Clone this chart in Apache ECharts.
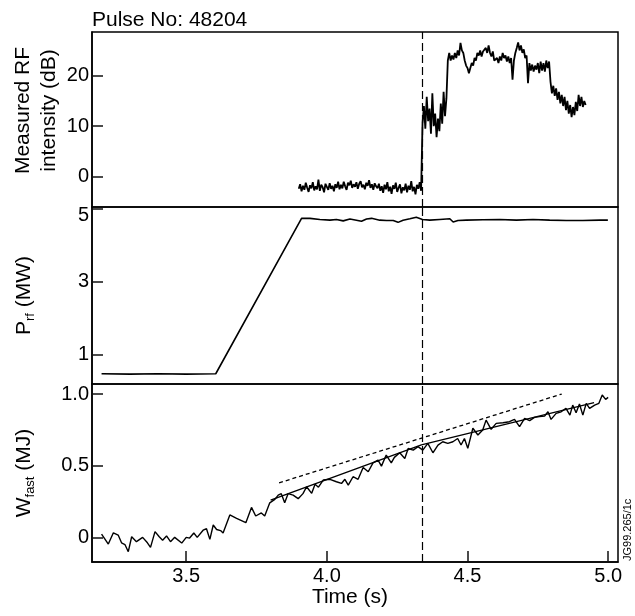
<!DOCTYPE html>
<html><head><meta charset="utf-8">
<script src="https://cdn.jsdelivr.net/npm/echarts@6/dist/echarts.min.js"></script>
<style>html,body{margin:0;padding:0;background:#fff}#c{width:635px;height:616px}</style>
</head><body><div id="c"></div>
<script>
const FONT = '"Liberation Sans", Arial, sans-serif';
const titleText = 'Pulse No: 48204';
const stampText = 'JG99.265/1c';
const xName = 'Time (s)';
const xTicks = [3.5, 4.0, 4.5, 5.0];
const rfTicks = [0, 10, 20];
const prfTicks = [1, 3, 5];
const wTicks = [0, 0.5, 1.0];
const switchTime = 4.336;

// Measured RF intensity (dB), sampled every 5 ms from 3.900 s
const rfStart = 3.900, rfStep = 0.005;
const rfValues = [
  -2.4,-1.5,-2.9,-1.8,-2.6,-1.2,-2.2,-3.0,-1.7,-2.3,-1.1,-2.7,-1.9,-2.5,-0.6,-2.8,-1.6,-2.1,-3.1,-1.4,-2.0,-2.6,-1.3,-2.4,-1.8,-2.9,-1.5,-2.2,-1.0,-2.5,
  -1.6,-2.3,-1.0,-1.9,-2.6,-1.2,-1.7,-0.8,-2.2,-1.5,-2.0,-1.1,-2.4,-1.4,-0.9,-2.1,-1.6,-2.5,-1.2,-1.8,-0.7,-2.2,-1.5,-2.6,-1.3,-1.9,
  -2.3,-1.4,-2.8,-1.9,-3.2,-1.6,-2.5,-1.1,-2.9,-2.0,-3.4,-1.7,-2.4,-1.2,-3.0,-2.2,-1.5,-3.3,-2.1,-2.7,-1.4,-3.1,-1.8,-2.6,-0.9,-2.9,-2.0,-3.5,-1.6,-2.4,-1.1,-2.8,
  10.5,14.0,9.5,15.8,11.0,13.5,8.5,16.5,10.0,12.5,7.8,11.5,9.0,14.5,10.5,16.8,12.0,15.5,
  23.0,24.5,23.0,24.0,23.2,24.5,23.5,25.0,24.0,26.5,25.0,24.5,23.0,22.0,21.5,20.5,21.5,22.5,22.0,23.5,
  23.0,24.5,24.0,25.0,23.8,24.8,24.5,25.5,24.5,26.0,24.5,23.8,24.8,23.0,22.8,23.5,22.5,23.8,23.0,24.5,
  23.5,24.0,22.8,23.8,22.5,23.5,19.2,23.0,24.5,25.5,26.6,25.0,26.0,24.5,25.2,23.5,24.0,18.5,22.5,21.0,
  22.2,20.8,22.0,21.2,22.5,20.5,22.8,21.0,22.5,20.8,23.0,21.5,22.8,
  18.8,16.5,18.0,16.0,17.5,15.2,16.8,14.5,16.2,14.0,15.8,13.2,15.0,12.5,14.2,11.8,13.8,12.2,14.8,13.0,16.2,14.0,15.8,13.8,15.0,14.2
];

// RF power (MW)
const prfTime = [3.199,3.30,3.40,3.50,3.605,3.910,3.940,3.975,4.011,4.034,4.058,4.082,4.105,4.123,4.141,4.159,4.188,4.212,4.236,4.253,4.271,4.295,4.318,4.340,4.366,4.401,4.437,4.449,4.466,4.496,4.555,4.614,4.674,4.733,4.792,4.851,4.910,4.970,4.999];
const prfValue = [0.48,0.47,0.48,0.47,0.48,4.73,4.73,4.70,4.68,4.70,4.66,4.71,4.68,4.65,4.71,4.73,4.68,4.67,4.67,4.62,4.68,4.72,4.76,4.70,4.68,4.70,4.72,4.63,4.67,4.68,4.69,4.70,4.68,4.70,4.68,4.67,4.67,4.68,4.68];

// Fast ion energy (MJ)
const wTime = [3.199,3.223,3.241,3.258,3.270,3.282,3.294,3.306,3.323,3.345,3.362,3.373,3.389,3.404,3.416,3.430,3.444,3.459,3.484,3.500,3.512,3.527,3.539,3.560,3.572,3.584,3.596,3.608,3.622,3.631,3.655,3.679,3.712,3.732,3.747,3.767,3.779,3.797,3.815,3.827,3.838,3.850,3.862,3.880,3.898,3.915,3.928,3.946,3.958,3.970,3.987,4.011,4.034,4.052,4.064,4.076,4.093,4.111,4.129,4.147,4.164,4.182,4.194,4.211,4.229,4.240,4.259,4.277,4.289,4.307,4.324,4.341,4.359,4.377,4.395,4.412,4.430,4.448,4.465,4.477,4.489,4.501,4.519,4.537,4.554,4.566,4.584,4.602,4.626,4.649,4.667,4.685,4.703,4.721,4.738,4.756,4.774,4.786,4.797,4.815,4.833,4.850,4.864,4.874,4.886,4.898,4.910,4.922,4.934,4.952,4.967,4.979,4.991,5.000];
const wValue = [0.023,-0.047,0.032,0.016,-0.038,-0.05,-0.10,0.004,-0.03,0.0,-0.038,-0.07,0.04,0.004,-0.02,0.01,-0.03,0.0,-0.04,0.0,-0.005,0.03,0.0,0.05,0.06,-0.014,0.086,0.055,0.047,0.03,0.156,0.132,0.102,0.209,0.149,0.17,0.149,0.241,0.265,0.295,0.305,0.241,0.305,0.295,0.27,0.305,0.353,0.307,0.37,0.35,0.40,0.405,0.388,0.376,0.405,0.365,0.423,0.405,0.488,0.458,0.52,0.539,0.497,0.574,0.52,0.558,0.59,0.55,0.62,0.609,0.633,0.609,0.656,0.59,0.644,0.667,0.656,0.667,0.69,0.644,0.69,0.621,0.761,0.714,0.749,0.818,0.754,0.795,0.80,0.807,0.823,0.772,0.83,0.814,0.837,0.842,0.846,0.876,0.823,0.865,0.876,0.90,0.853,0.923,0.869,0.93,0.853,0.935,0.90,0.923,0.935,0.993,0.963,0.977];

// Fitted trend (solid) and extrapolated trend (dashed)
const fitTime = [3.80, 4.336, 4.95];
const fitValue = [0.26, 0.645, 0.94];
const trendTime = [3.83, 4.835];
const trendValue = [0.38, 1.0];

const zip = (t, v) => t.map((x, i) => [x, v[i]]);
const rfData = rfValues.map((v, i) => [+(rfStart + i * rfStep).toFixed(3), v]);

const BLACK = '#000';
const TICK = '#111';
const LABEL_SIZE = 20, NAME_SIZE = 21;
const X_MIN = 3.165, X_MAX = 5.035;
const gridBase = { left: 92, right: 17, show: true, borderColor: BLACK, borderWidth: 1.5 };

function hiddenX(idx) {
  return { type: 'value', gridIndex: idx, min: X_MIN, max: X_MAX, axisLine: { show: false }, axisTick: { show: false }, axisLabel: { show: false }, splitLine: { show: false } };
}
function yAxis(idx, min, max, ticks, fmt, name, nameGap, nameStyle) {
  return {
    type: 'value', gridIndex: idx, min: min, max: max,
    axisLine: { show: true, lineStyle: { color: BLACK, width: 1.5 } },
    axisTick: { show: true, inside: true, length: 11, customValues: ticks, lineStyle: { color: TICK, width: 1.5 } },
    axisLabel: { show: true, customValues: ticks, formatter: fmt, margin: 3, fontSize: LABEL_SIZE, color: BLACK, fontFamily: FONT,
      rich: { top: { fontSize: LABEL_SIZE, color: BLACK, fontFamily: FONT, padding: [14, 0, 0, 0] } } },
    splitLine: { show: false },
    name: name, nameLocation: 'middle', nameGap: nameGap, nameRotate: 90, nameMoveOverlap: false,
    nameTextStyle: nameStyle
  };
}
const subRich = {
  n: { fontSize: NAME_SIZE, color: BLACK, fontFamily: FONT },
  s: { fontSize: 13, color: BLACK, fontFamily: FONT, padding: [13, 0, 0, 0] }
};
const lineSeries = (xi, data, width, type) => ({
  type: 'line', xAxisIndex: xi, yAxisIndex: xi, data: data, showSymbol: false, symbol: 'none', silent: true,
  lineStyle: { color: BLACK, width: width, type: type || 'solid' }
});
const vMark = {
  silent: true, symbol: ['none', 'none'], label: { show: false }, animation: false,
  lineStyle: { color: BLACK, type: [8, 4], width: 1.2 }, data: [{ xAxis: switchTime }]
};

const option = {
  animation: false,
  backgroundColor: '#fff',
  title: { text: titleText, left: 87, top: 5, textStyle: { fontSize: NAME_SIZE, fontWeight: 'normal', color: BLACK, fontFamily: FONT } },
  grid: [
    Object.assign({ top: 32, height: 175 }, gridBase),
    Object.assign({ top: 207, height: 177 }, gridBase),
    Object.assign({ top: 384, height: 178 }, gridBase)
  ],
  xAxis: [
    hiddenX(0), hiddenX(1),
    {
      type: 'value', gridIndex: 2, min: X_MIN, max: X_MAX,
      axisLine: { show: true, onZero: false, lineStyle: { color: BLACK, width: 1.5 } },
      axisTick: { show: true, inside: true, length: 11, customValues: xTicks, lineStyle: { color: TICK, width: 1.5 } },
      axisLabel: { show: true, customValues: xTicks, formatter: v => v.toFixed(1), margin: 4, fontSize: LABEL_SIZE, color: BLACK, fontFamily: FONT },
      splitLine: { show: false },
      name: xName, nameLocation: 'middle', nameGap: 22,
      nameTextStyle: { fontSize: NAME_SIZE, color: BLACK, fontFamily: FONT, verticalAlign: 'top', padding: [0, 10, 0, 0] }
    }
  ],
  yAxis: [
    yAxis(0, -6, 28.65, rfTicks, v => String(v), 'Measured RF\nintensity (dB)', 30,
      { fontSize: NAME_SIZE, color: BLACK, fontFamily: FONT, lineHeight: 26, padding: [0, 0, 0, 18] }),
    yAxis(1, 0.2, 5.04, prfTicks, v => (v === 5 ? '{top|5}' : String(v)), '{n|P}{s|rf}{n| (MW)}', 55,
      { rich: subRich }),
    yAxis(2, -0.172, 1.07, wTicks, v => (v === 0 ? '0' : v.toFixed(1)), '{n|W}{s|fast}{n| (MJ)}', 55,
      { rich: subRich })
  ],
  series: [
    Object.assign(lineSeries(0, rfData, 1.8), { markLine: vMark }),
    Object.assign(lineSeries(1, zip(prfTime, prfValue), 1.6), { markLine: vMark }),
    Object.assign(lineSeries(2, zip(wTime, wValue), 1.4), { markLine: vMark }),
    lineSeries(2, zip(fitTime, fitValue), 1.4),
    lineSeries(2, zip(trendTime, trendValue), 1.3, [4, 3])
  ],
  graphic: [{
    type: 'text', x: 633, y: 561, rotation: Math.PI / 2, silent: true,
    style: { text: stampText, fontSize: 11, fontFamily: FONT, fill: BLACK, align: 'left', verticalAlign: 'bottom' }
  }]
};
const chart = echarts.init(document.getElementById('c'), null, { renderer: 'canvas' });
chart.setOption(option);
</script>
</body></html>
